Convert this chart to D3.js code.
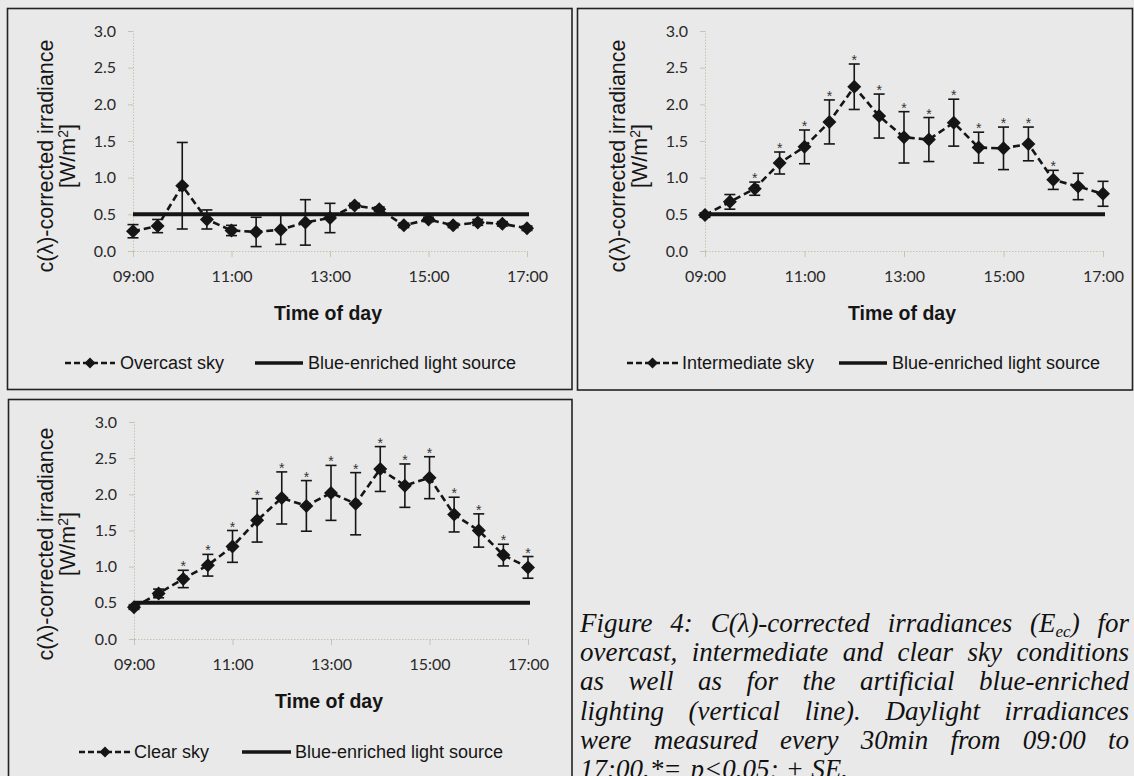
<!DOCTYPE html>
<html>
<head>
<meta charset="utf-8">
<script src="https://cdn.jsdelivr.net/npm/d3@7"></script>
<style>
  html, body { margin: 0; padding: 0; background: #e9e9e9; }
  svg { display: block; }
</style>
</head>
<body>
<div id="chart"></div>
<script>
// measurement times (hours), every 30 min from 09:00 to 17:00
const times = [9, 9.5, 10, 10.5, 11, 11.5, 12, 12.5, 13, 13.5, 14, 14.5, 15, 15.5, 16, 16.5, 17];
const timeTicks = [9, 11, 13, 15, 17];
const yTicks = [0, 0.5, 1, 1.5, 2, 2.5, 3];
const lightSourceLevel = 0.5;

const overcastMean = [0.27, 0.34, 0.89, 0.43, 0.28, 0.26, 0.29, 0.39, 0.45, 0.62, 0.57, 0.35, 0.43, 0.35, 0.39, 0.37, 0.31];
const overcastSE   = [0.09, 0.09, 0.59, 0.13, 0.07, 0.20, 0.20, 0.31, 0.20, 0.03, 0.03, 0.03, 0.03, 0.03, 0.04, 0.03, 0.03];
const overcastSig  = [0, 0, 0, 0, 0, 0, 0, 0, 0, 0, 0, 0, 0, 0, 0, 0, 0];

const intermediateMean = [0.49, 0.67, 0.85, 1.20, 1.42, 1.76, 2.24, 1.84, 1.55, 1.52, 1.75, 1.41, 1.40, 1.46, 0.97, 0.88, 0.78];
const intermediateSE   = [0.03, 0.10, 0.09, 0.15, 0.23, 0.30, 0.31, 0.30, 0.35, 0.30, 0.32, 0.21, 0.29, 0.23, 0.13, 0.18, 0.17];
const intermediateSig  = [0, 0, 1, 1, 1, 1, 1, 1, 1, 1, 1, 1, 1, 1, 1, 0, 0];

const clearMean = [0.44, 0.63, 0.83, 1.02, 1.28, 1.64, 1.95, 1.84, 2.02, 1.87, 2.35, 2.12, 2.23, 1.72, 1.50, 1.16, 0.99];
const clearSE   = [0.03, 0.06, 0.12, 0.15, 0.22, 0.30, 0.36, 0.35, 0.38, 0.43, 0.31, 0.30, 0.29, 0.24, 0.23, 0.15, 0.15];
const clearSig  = [0, 0, 1, 1, 1, 1, 1, 1, 1, 1, 1, 1, 1, 1, 1, 1, 1];

// "|" marks the subscript part of a word
const captionLines = [
  ['Figure', '4:', 'C(λ)-corrected', 'irradiances', '(E|ec|)', 'for'],
  ['overcast,', 'intermediate', 'and', 'clear', 'sky', 'conditions'],
  ['as', 'well', 'as', 'for', 'the', 'artificial', 'blue-enriched'],
  ['lighting', '(vertical', 'line).', 'Daylight', 'irradiances'],
  ['were', 'measured', 'every', '30min', 'from', '09:00', 'to'],
  ['17:00.*=', 'p<0.05;', '±', 'SE.']
];

const W = 1134, H = 776;
const ink = '#151515';
const faint = '#c4c4b0';

const svg = d3.select('#chart').append('svg')
  .attr('width', W).attr('height', H);

svg.append('rect').attr('width', W).attr('height', H).attr('fill', '#e9e9e9');

const panels = [
  {
    name: 'Overcast sky', mean: overcastMean, se: overcastSE, sig: overcastSig,
    frame: [7.5, 8.5, 564.5, 381], xr: [133, 527], yr: [251, 31],
    titleX: 53, titleY: 156, legY: 363, leg: [65, 115, 120, 255, 303, 308]
  },
  {
    name: 'Intermediate sky', mean: intermediateMean, se: intermediateSE, sig: intermediateSig,
    frame: [577.5, 8.5, 555, 381.5], xr: [705, 1103], yr: [251, 31],
    titleX: 625, titleY: 156, legY: 363, leg: [627, 678, 682, 839, 887, 892]
  },
  {
    name: 'Clear sky', mean: clearMean, se: clearSE, sig: clearSig,
    frame: [8.5, 399.5, 563.5, 400], xr: [134, 528], yr: [639, 422],
    titleX: 53, titleY: 544, legY: 752, leg: [79, 131, 134, 242, 291, 295]
  }
];

const diamond = (s) => `M0,${-s}L${s},0L0,${s}L${-s},0Z`;

panels.forEach((p) => {
  const g = svg.append('g');

  g.append('rect')
    .attr('x', p.frame[0]).attr('y', p.frame[1])
    .attr('width', p.frame[2]).attr('height', p.frame[3])
    .attr('fill', 'none').attr('stroke', '#222').attr('stroke-width', 1.6);

  const x = d3.scaleLinear().domain([9, 17]).range(p.xr);
  const y = d3.scaleLinear().domain([0, 3]).range(p.yr);

  const pts = times.map((t, i) => ({ t, v: p.mean[i], se: p.se[i], sig: p.sig[i] }));

  // y axis
  const ya = g.append('g')
    .attr('transform', `translate(${p.xr[0]},0)`)
    .call(d3.axisLeft(y).tickValues(yTicks).tickFormat(d3.format('.1f')).tickSize(5).tickPadding(12));
  ya.select('.domain').attr('stroke', faint).attr('stroke-dasharray', '1.5,1.5');
  ya.selectAll('.tick line').attr('stroke', faint);
  ya.selectAll('.tick text')
    .attr('fill', '#2a2a2a').style('font-family', 'Lato, sans-serif').style('font-size', '16px');

  // x axis
  const xa = g.append('g')
    .attr('transform', `translate(0,${p.yr[0]})`)
    .call(d3.axisBottom(x).tickValues(timeTicks)
      .tickFormat((d) => d3.format('02d')(d) + ':00').tickSize(6).tickPadding(14));
  xa.select('.domain').attr('stroke', faint).attr('stroke-dasharray', '1.5,1.5');
  xa.selectAll('.tick line').attr('stroke', faint);
  xa.selectAll('.tick text')
    .attr('fill', '#2a2a2a').style('font-family', 'Lato, sans-serif').style('font-size', '16px');

  // axis titles
  const mid = (p.xr[0] + p.xr[1]) / 2;
  g.append('text')
    .attr('x', mid - 2).attr('y', p.yr[0] + 69)
    .attr('text-anchor', 'middle')
    .style('font-family', 'Liberation Sans, Arial, sans-serif')
    .style('font-weight', 'bold').style('font-size', '19.5px')
    .attr('fill', ink)
    .text('Time of day');

  const yt = g.append('text')
    .attr('transform', `translate(${p.titleX},${p.titleY}) rotate(-90)`)
    .attr('text-anchor', 'middle')
    .style('font-family', 'Liberation Sans, Arial, sans-serif')
    .style('font-size', '21.5px')
    .attr('fill', ink);
  yt.append('tspan').attr('x', 0).attr('y', 0).text('c(λ)-corrected irradiance');
  const yt2 = yt.append('tspan').attr('x', 0).attr('y', 22);
  yt2.append('tspan').text('[W/m');
  yt2.append('tspan').attr('dy', -7).style('font-size', '14px').text('2');
  yt2.append('tspan').attr('dy', 7).text(']');

  // blue-enriched light source
  g.append('line')
    .attr('x1', x(times[0])).attr('x2', x(times[times.length - 1]) + 2)
    .attr('y1', y(lightSourceLevel)).attr('y2', y(lightSourceLevel))
    .attr('stroke', ink).attr('stroke-width', 4);

  // dashed series line
  g.append('path')
    .datum(pts)
    .attr('fill', 'none').attr('stroke', ink).attr('stroke-width', 2.6)
    .attr('stroke-dasharray', '7,4')
    .attr('d', d3.line().x((d) => x(d.t)).y((d) => y(d.v)));

  // error bars
  const eb = g.selectAll('.err').data(pts).enter().append('g').attr('class', 'err');
  eb.append('line')
    .attr('x1', (d) => x(d.t)).attr('x2', (d) => x(d.t))
    .attr('y1', (d) => y(d.v - d.se)).attr('y2', (d) => y(d.v + d.se))
    .attr('stroke', ink).attr('stroke-width', 1.6);
  [1, -1].forEach((s) => {
    eb.append('line')
      .attr('x1', (d) => x(d.t) - 5.5).attr('x2', (d) => x(d.t) + 5.5)
      .attr('y1', (d) => y(d.v + s * d.se)).attr('y2', (d) => y(d.v + s * d.se))
      .attr('stroke', ink).attr('stroke-width', 1.6);
  });

  // markers
  g.selectAll('.pt').data(pts).enter().append('path')
    .attr('class', 'pt')
    .attr('transform', (d) => `translate(${x(d.t)},${y(d.v)})`)
    .attr('d', diamond(7))
    .attr('fill', ink);

  // significance stars
  g.selectAll('.star').data(pts.filter((d) => d.sig)).enter()
    .append('text')
    .attr('class', 'star')
    .attr('x', (d) => x(d.t))
    .attr('y', (d) => y(d.v + d.se) + 1)
    .attr('text-anchor', 'middle')
    .style('font-family', 'Liberation Sans, Arial, sans-serif').style('font-size', '14px')
    .attr('fill', '#333')
    .text('*');

  // legend
  const l = p.leg;
  const lg = g.append('g');
  lg.append('line')
    .attr('x1', l[0]).attr('x2', l[1]).attr('y1', p.legY).attr('y2', p.legY)
    .attr('stroke', ink).attr('stroke-width', 2.6).attr('stroke-dasharray', '6,3');
  lg.append('path')
    .attr('transform', `translate(${(l[0] + l[1]) / 2},${p.legY})`)
    .attr('d', diamond(5.5)).attr('fill', ink);
  lg.append('text')
    .attr('x', l[2]).attr('y', p.legY + 6)
    .style('font-family', 'Liberation Sans, Arial, sans-serif').style('font-size', '18px')
    .attr('fill', ink).text(p.name);
  lg.append('line')
    .attr('x1', l[3]).attr('x2', l[4]).attr('y1', p.legY).attr('y2', p.legY)
    .attr('stroke', ink).attr('stroke-width', 3.5);
  lg.append('text')
    .attr('x', l[5]).attr('y', p.legY + 6)
    .style('font-family', 'Liberation Sans, Arial, sans-serif').style('font-size', '18px')
    .attr('fill', ink).text('Blue-enriched light source');
});

// caption, justified
const capLeft = 580, capRight = 1129, capTop = 632, capLead = 29.2;
const cap = svg.append('g')
  .style('font-family', 'Liberation Serif, Times New Roman, serif')
  .style('font-style', 'italic').style('font-size', '27px')
  .attr('fill', '#111');

captionLines.forEach((words, li) => {
  const yy = capTop + li * capLead;
  const nodes = words.map((w) => {
    const t = cap.append('text').attr('y', yy);
    if (w.includes('|')) {
      const [a, b, c] = w.split('|');
      t.append('tspan').text(a);
      t.append('tspan').attr('dy', 5).style('font-size', '17px').text(b);
      t.append('tspan').attr('dy', -5).text(c);
    } else {
      t.text(w);
    }
    return t;
  });
  const widths = nodes.map((t) => t.node().getComputedTextLength());
  const total = d3.sum(widths);
  const last = li === captionLines.length - 1;
  const gap = last ? 9 : (capRight - capLeft - total) / (words.length - 1);
  let cx = capLeft;
  nodes.forEach((t, i) => {
    t.attr('x', cx);
    cx += widths[i] + gap;
  });
});
</script>
</body>
</html>
